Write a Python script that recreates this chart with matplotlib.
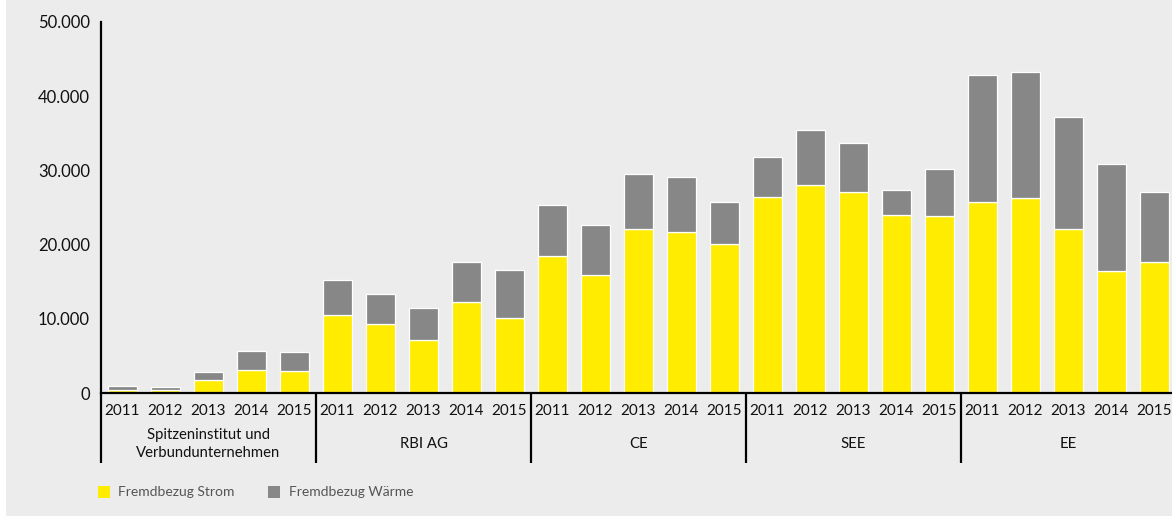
import matplotlib.pyplot as plt
from matplotlib.patches import Rectangle

plt.rcParams['font.family'] = ['Lato', 'DejaVu Sans']

years = ["2011", "2012", "2013", "2014", "2015"]
groups = ["Spitzeninstitut und\nVerbundunternehmen", "RBI AG", "CE", "SEE", "EE"]

# Fremdbezug in MWh je Einheit und Jahr
strom = [400, 450, 1700, 3100, 3000,
         10550, 9300, 7150, 12250, 10100,
         18400, 15900, 22050, 21700, 20100,
         26400, 28000, 27100, 24000, 23900,
         25700, 26300, 22050, 16500, 17700]
gesamt = [900, 850, 2800, 5700, 5500,
          15200, 13400, 11400, 17650, 16600,
          25300, 22700, 29500, 29100, 25800,
          31800, 35500, 33700, 27400, 30200,
          42800, 43200, 37200, 30800, 27100]
waerme = [g - s for g, s in zip(gesamt, strom)]

yticks = [0, 10000, 20000, 30000, 40000, 50000]

yellow = "#ffec00"
grey = "#878787"
bg = "#ebeceb"

fig = plt.figure(figsize=(11.72, 5.18), dpi=100, facecolor="white")
fig.patches.append(Rectangle((6 / 1172, 0.003), 1, 1, transform=fig.transFigure,
                             facecolor=bg, edgecolor="none", zorder=-10))

ax = fig.add_axes([101 / 1172, 125 / 518, 1075 / 1172, 371 / 518])
ax.set_facecolor("none")

x = list(range(len(strom)))
ax.bar(x, strom, width=0.66, color=yellow, edgecolor="white", linewidth=0.9)
ax.bar(x, waerme, bottom=strom, width=0.66, color=grey, edgecolor="white", linewidth=0.9)

ax.set_xlim(-0.5, len(strom) - 0.5)
ax.set_ylim(0, 50000)

for s in ["top", "right"]:
    ax.spines[s].set_visible(False)
ax.spines["left"].set_linewidth(1.6)
ax.spines["bottom"].set_linewidth(1.6)

ax.set_yticks(yticks)
ax.set_yticklabels([f"{v:,}".replace(",", ".") for v in yticks], fontsize=12, color="#111111")
ax.tick_params(axis="y", length=0, pad=8)

ax.set_xticks(x)
ax.set_xticklabels(years * len(groups), fontsize=11, color="#111111")
ax.tick_params(axis="x", length=0, pad=8)

# Gruppentrenner unterhalb der Achse
trans = ax.get_xaxis_transform()
for b in range(len(groups)):
    ax.plot([b * 5 - 0.5, b * 5 - 0.5], [0, -0.19], transform=trans, color="black",
            linewidth=1.6, clip_on=False, solid_capstyle="butt")
    ax.text(b * 5 + 2, -0.137, groups[b], transform=trans, ha="center", va="center",
            fontsize=10.7, color="#111111", linespacing=1.4)

# Legende
fig.patches.append(Rectangle((98 / 1172, 1 - 498 / 518), 12 / 1172, 12 / 518,
                             transform=fig.transFigure, facecolor=yellow, edgecolor="none"))
fig.text(118 / 1172, 1 - 492 / 518, "Fremdbezug Strom", fontsize=10, color="#555555",
         va="center", ha="left")
fig.patches.append(Rectangle((268 / 1172, 1 - 498 / 518), 12 / 1172, 12 / 518,
                             transform=fig.transFigure, facecolor=grey, edgecolor="none"))
fig.text(289 / 1172, 1 - 492 / 518, "Fremdbezug Wärme", fontsize=10, color="#555555",
         va="center", ha="left")

fig.savefig("out.png", dpi=100, facecolor=fig.get_facecolor())
